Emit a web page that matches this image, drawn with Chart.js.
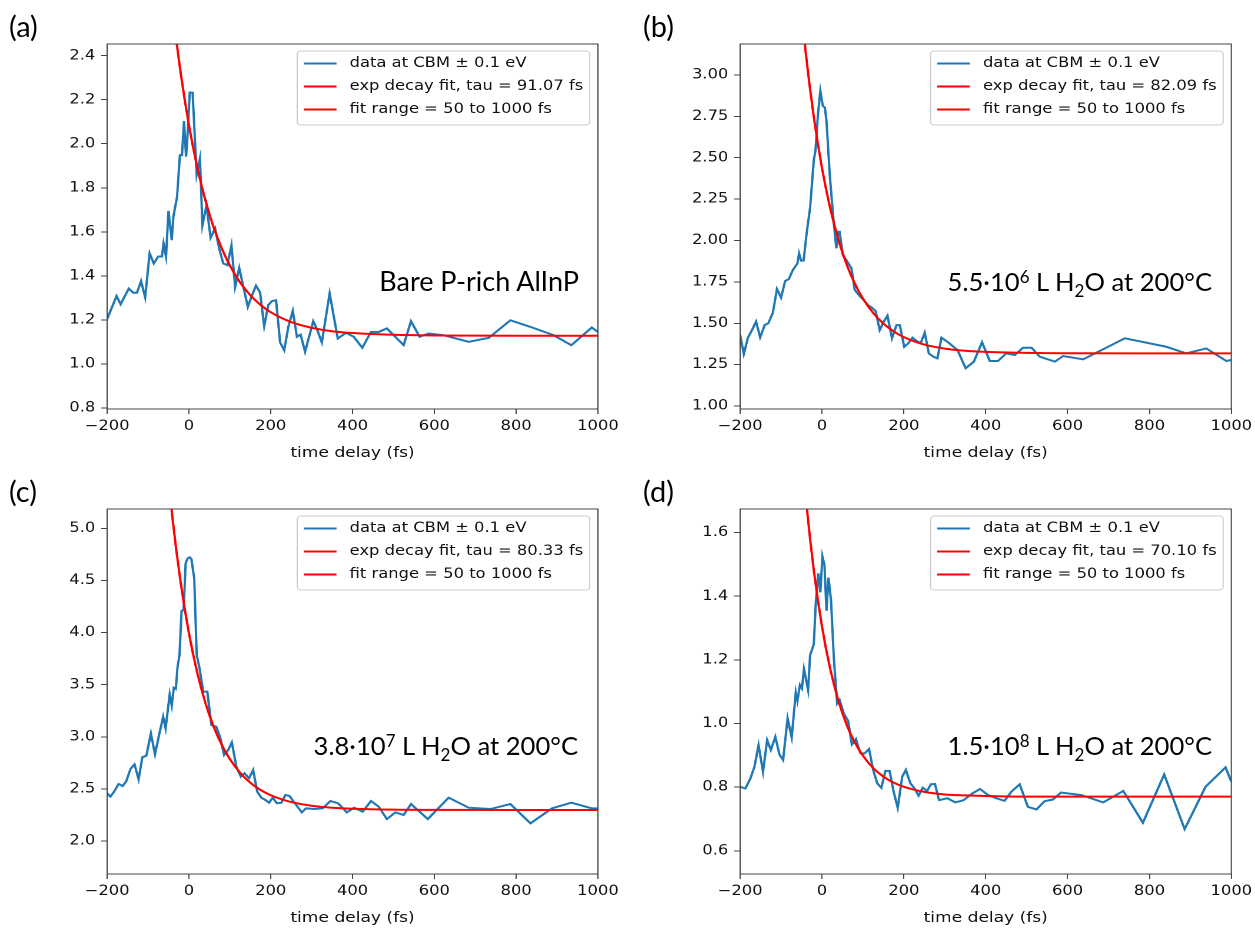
<!DOCTYPE html>
<html>
<head>
<meta charset="utf-8">
<script src="https://cdn.jsdelivr.net/npm/chart.js@4.4.1/dist/chart.umd.min.js"></script>
<style>
html, body { margin: 0; padding: 0; background: #fff; width: 1255px; height: 928px; overflow: hidden; }
.panel { position: absolute; transform: scaleX(1.177); transform-origin: 0 0; }
.panel canvas { display: block; }
#notes { position: absolute; left: 0; top: 0; pointer-events: none; }
#notes text { font-family: Lato, "Open Sans", sans-serif; fill: #000; }
</style>
</head>
<body>

<div class="panel" style="left:0px;top:0px"><canvas id="chartA" width="530" height="466"></canvas></div>
<div class="panel" style="left:633px;top:0px"><canvas id="chartB" width="530" height="466"></canvas></div>
<div class="panel" style="left:0px;top:465px"><canvas id="chartC" width="530" height="466"></canvas></div>
<div class="panel" style="left:633px;top:465px"><canvas id="chartD" width="530" height="466"></canvas></div>

<svg id="notes" width="1255" height="928">
  <text x="9" y="37" font-size="29">(a)</text>
  <text x="643" y="37" font-size="29">(b)</text>
  <text x="9" y="502" font-size="29">(c)</text>
  <text x="643" y="502" font-size="29">(d)</text>

  <text x="579" y="291" font-size="27" text-anchor="end">Bare P-rich AlInP</text>
  <text x="1212" y="291" font-size="25.6" text-anchor="end">5.5·10<tspan dy="-8" font-size="17">6</tspan><tspan dy="8"> L H</tspan><tspan dy="6" font-size="17">2</tspan><tspan dy="-6">O at 200°C</tspan></text>
  <text x="578" y="755" font-size="25.6" text-anchor="end">3.8·10<tspan dy="-8" font-size="17">7</tspan><tspan dy="8"> L H</tspan><tspan dy="6" font-size="17">2</tspan><tspan dy="-6">O at 200°C</tspan></text>
  <text x="1212" y="755" font-size="25.6" text-anchor="end">1.5·10<tspan dy="-8" font-size="17">8</tspan><tspan dy="8"> L H</tspan><tspan dy="6" font-size="17">2</tspan><tspan dy="-6">O at 200°C</tspan></text>
</svg>

<script>
// ---- data ----
const xTicks = [-200, 0, 200, 400, 600, 800, 1000];

// panel (a) bare P-rich AlInP
const timeA = [-200,-177,-167,-147,-136,-127,-117,-107,-96,-86,-75,-66,-62,-56,-50,-42,-38,-29,-22,-17,-12,-7,-3,2,9,19,27,33,43,53,64,74,84,94,104,113,123,134,144,153,164,174,184,194,203,213,223,233,243,254,264,273,284,304,314,325,344,364,384,403,424,445,464,484,525,543,564,586,623,684,733,786,835,892,935,985,1000];
const signalA = [1.203,1.308,1.271,1.342,1.323,1.323,1.376,1.302,1.502,1.456,1.488,1.488,1.547,1.488,1.695,1.562,1.668,1.759,1.948,1.948,2.103,1.941,2.05,2.233,2.232,1.86,1.933,1.63,1.72,1.573,1.615,1.524,1.456,1.448,1.539,1.35,1.436,1.342,1.259,1.305,1.355,1.324,1.171,1.267,1.285,1.289,1.097,1.062,1.168,1.241,1.123,1.133,1.055,1.194,1.153,1.097,1.32,1.115,1.141,1.123,1.073,1.145,1.145,1.161,1.085,1.194,1.123,1.138,1.13,1.1,1.118,1.198,1.168,1.13,1.085,1.165,1.145];

// panel (b) 5.5e6 L
const timeB = [-200,-191,-181,-171,-161,-151,-140,-131,-120,-110,-100,-90,-81,-71,-60,-56,-51,-45,-37,-29,-20,-16,-10,-4,2,7,11,19,27,35,40,43,51,62,72,80,92,102,112,122,131,141,151,160,171,182,190,201,211,221,231,241,251,261,272,282,292,311,331,351,371,391,410,430,450,471,491,512,532,569,589,638,740,841,890,939,988,1000];
const signalB = [1.43,1.314,1.413,1.459,1.51,1.415,1.489,1.5,1.564,1.707,1.655,1.755,1.767,1.822,1.862,1.922,1.878,1.878,2.053,2.198,2.486,2.541,2.758,2.903,2.813,2.803,2.722,2.396,2.154,1.953,2.053,2.053,1.912,1.872,1.832,1.701,1.665,1.64,1.61,1.594,1.574,1.459,1.51,1.546,1.409,1.489,1.489,1.358,1.379,1.413,1.393,1.379,1.443,1.318,1.298,1.288,1.413,1.379,1.338,1.228,1.268,1.385,1.272,1.272,1.318,1.308,1.352,1.352,1.298,1.268,1.302,1.282,1.409,1.358,1.318,1.348,1.272,1.278];

// panel (c) 3.8e7 L
const timeC = [-200,-192,-183,-172,-162,-153,-143,-133,-123,-114,-104,-93,-83,-73,-63,-57,-47,-42,-37,-32,-28,-23,-18,-13,-8,-3,2,6,13,19,26,35,45,55,67,77,86,96,105,116,127,136,147,157,167,177,187,196,205,215,226,236,246,256,276,286,307,327,346,365,386,404,425,445,464,484,505,525,543,564,584,635,684,737,786,835,888,935,985,1000];
const signalC = [2.46,2.426,2.474,2.547,2.528,2.576,2.691,2.736,2.592,2.803,2.819,3.033,2.832,3.017,3.193,3.081,3.407,3.299,3.471,3.459,3.663,3.785,4.207,4.217,4.664,4.712,4.722,4.706,4.52,3.785,3.657,3.433,3.433,3.113,3.097,2.985,2.825,2.873,2.947,2.713,2.618,2.65,2.602,2.682,2.474,2.416,2.394,2.368,2.416,2.362,2.368,2.442,2.432,2.378,2.275,2.314,2.307,2.314,2.384,2.362,2.275,2.32,2.282,2.384,2.33,2.211,2.275,2.25,2.355,2.282,2.211,2.416,2.32,2.307,2.355,2.17,2.314,2.368,2.314,2.314];

// panel (d) 1.5e8 L
const timeD = [-200,-187,-175,-165,-155,-144,-134,-125,-114,-104,-95,-84,-74,-64,-60,-54,-49,-44,-34,-29,-20,-15,-9,-4,1,6,11,16,22,29,37,43,53,64,73,83,94,104,115,125,135,145,155,165,175,185,196,205,216,226,236,246,257,266,276,286,306,326,346,367,386,406,426,446,463,483,503,524,544,564,584,634,687,736,784,836,886,937,986,1000];
const signalD = [0.801,0.796,0.827,0.864,0.932,0.848,0.948,0.917,0.958,0.903,0.885,1.016,0.956,1.098,1.071,1.121,1.11,1.171,1.105,1.215,1.249,1.383,1.472,1.412,1.525,1.498,1.354,1.458,1.388,1.205,1.063,1.074,1.032,1.008,0.934,0.951,0.906,0.906,0.92,0.854,0.812,0.798,0.851,0.851,0.786,0.735,0.833,0.854,0.812,0.796,0.773,0.798,0.788,0.809,0.81,0.759,0.765,0.752,0.759,0.78,0.794,0.775,0.765,0.757,0.786,0.809,0.738,0.73,0.756,0.761,0.783,0.775,0.752,0.788,0.688,0.84,0.668,0.801,0.862,0.817];

// exponential fit curves, sampled at these delays
const fitTimes = [-60,-40,-20,0,20,40,60,80,100,125,150,175,200,250,300,350,400,500,600,800,1000];
const fitA = [2.977,2.613,2.320,2.085,1.896,1.745,1.623,1.526,1.447,1.370,1.312,1.268,1.235,1.190,1.164,1.148,1.140,1.132,1.129,1.128,1.128];
const fitB = [3.644,3.141,2.747,2.438,2.196,2.006,1.857,1.741,1.649,1.562,1.498,1.451,1.416,1.371,1.347,1.334,1.327,1.321,1.319,1.318,1.318];
const fitC = [5.879,5.090,4.475,3.995,3.621,3.329,3.102,2.925,2.787,2.656,2.560,2.490,2.439,2.374,2.339,2.320,2.310,2.301,2.299,2.298,2.298];
const fitD = [2.029,1.717,1.482,1.305,1.172,1.072,0.997,0.941,0.899,0.860,0.833,0.814,0.801,0.785,0.777,0.774,0.772,0.770,0.770,0.770,0.770];

const tauLabels = ['91.07', '82.09', '80.33', '70.10'];

// y ticks / axis limits
const yTicksA = [0.8, 1.0, 1.2, 1.4, 1.6, 1.8, 2.0, 2.2, 2.4];
const yTicksB = [1.00, 1.25, 1.50, 1.75, 2.00, 2.25, 2.50, 2.75, 3.00];
const yTicksC = [2.0, 2.5, 3.0, 3.5, 4.0, 4.5, 5.0];
const yTicksD = [0.6, 0.8, 1.0, 1.2, 1.4, 1.6];
const yRangeA = [0.795, 2.453];
const yRangeB = [0.982, 3.187];
const yRangeC = [1.684, 5.185];
const yRangeD = [0.527, 1.674];

const BLUE = '#1f77b4';
const RED = '#ff0000';
const FONT = 13.9;

Chart.defaults.font.family = '"DejaVu Sans", sans-serif';
Chart.defaults.font.size = FONT;
Chart.defaults.color = '#111';

// box around the axes + matplotlib-like legend in the upper right
const framePlugin = {
  id: 'frame',
  afterDraw(chart, args, opts) {
    const ctx = chart.ctx;
    const a = chart.chartArea;
    ctx.save();
    ctx.strokeStyle = '#444';
    ctx.lineWidth = 1;
    ctx.strokeRect(a.left, a.top, a.right - a.left, a.bottom - a.top);

    const items = opts.items || [];
    ctx.font = FONT + 'px "DejaVu Sans"';
    const pad = 0.4 * FONT, hl = 2 * FONT, htp = 0.8 * FONT;
    const textW = Math.max(...items.map(it => ctx.measureText(it.text).width));
    const w = pad + hl + htp + textW + pad;
    const h = 74;
    const x = a.right - 0.5 * FONT - w;
    const y = a.top + 0.5 * FONT;

    ctx.beginPath();
    ctx.roundRect(x, y, w, h, 3);
    ctx.fillStyle = 'rgba(255,255,255,0.8)';
    ctx.fill();
    ctx.strokeStyle = '#cccccc';
    ctx.stroke();

    items.forEach((it, i) => {
      const cy = y + 12.5 + i * 23;
      ctx.beginPath();
      ctx.moveTo(x + pad, cy);
      ctx.lineTo(x + pad + hl, cy);
      ctx.strokeStyle = it.color;
      ctx.lineWidth = 2;
      ctx.stroke();
      ctx.fillStyle = '#111';
      ctx.textBaseline = 'middle';
      ctx.textAlign = 'left';
      ctx.fillText(it.text, x + pad + hl + htp, cy);
    });
    ctx.restore();
  }
};

function tickText(v, dec) {
  return v.toFixed(dec).replace('-', '\u2212');
}

function makePanel(id, time, signal, fit, tau, yTicks, yRange, dec, padRight) {
  const points = time.map((t, i) => ({ x: t, y: signal[i] }));
  const fitPoints = fitTimes.map((t, i) => ({ x: t, y: fit[i] }));

  new Chart(document.getElementById(id), {
    type: 'line',
    data: {
      datasets: [
        { label: 'exp decay fit', data: fitPoints, borderColor: RED, borderWidth: 2,
          pointRadius: 0, cubicInterpolationMode: 'monotone', fill: false },
        { label: 'data', data: points, borderColor: BLUE, borderWidth: 2,
          pointRadius: 0, tension: 0, fill: false }
      ]
    },
    options: {
      responsive: false,
      animation: false,
      devicePixelRatio: 2,
      events: [],
      layout: { padding: { top: 44, right: padRight, bottom: 0, left: 0 } },
      plugins: {
        legend: { display: false },
        tooltip: { enabled: false },
        frame: {
          items: [
            { text: 'data at CBM \u00b1 0.1 eV', color: BLUE },
            { text: 'exp decay fit, tau = ' + tau + ' fs', color: RED },
            { text: 'fit range = 50 to 1000 fs', color: RED }
          ]
        }
      },
      scales: {
        x: {
          type: 'linear',
          min: -200,
          max: 1000,
          afterBuildTicks: s => { s.ticks = xTicks.map(v => ({ value: v })); },
          afterFit: s => { s.height = 57; },
          ticks: { autoSkip: false, maxRotation: 0, padding: 4, color: '#111',
                   callback: v => tickText(v, 0) },
          grid: { display: true, drawOnChartArea: false, drawTicks: true,
                  tickLength: 5, tickColor: '#444', tickWidth: 1 },
          border: { display: true, color: '#444', width: 1 },
          title: { display: true, text: 'time delay (fs)', color: '#111',
                   font: { size: 14.5 }, padding: { top: 0, bottom: 4 } }
        },
        y: {
          type: 'linear',
          min: yRange[0],
          max: yRange[1],
          afterBuildTicks: s => { s.ticks = yTicks.map(v => ({ value: v })); },
          afterFit: s => { s.width = 91; },
          ticks: { padding: 5, color: '#111', callback: v => tickText(v, dec) },
          grid: { display: true, drawOnChartArea: false, drawTicks: true,
                  tickLength: 5, tickColor: '#444', tickWidth: 1 },
          border: { display: true, color: '#444', width: 1 }
        }
      }
    },
    plugins: [framePlugin]
  });
}

makePanel('chartA', timeA, signalA, fitA, tauLabels[0], yTicksA, yRangeA, 1, 22);
makePanel('chartB', timeB, signalB, fitB, tauLabels[1], yTicksB, yRangeB, 2, 21);
makePanel('chartC', timeC, signalC, fitC, tauLabels[2], yTicksC, yRangeC, 1, 22);
makePanel('chartD', timeD, signalD, fitD, tauLabels[3], yTicksD, yRangeD, 1, 21);
</script>
</body>
</html>
